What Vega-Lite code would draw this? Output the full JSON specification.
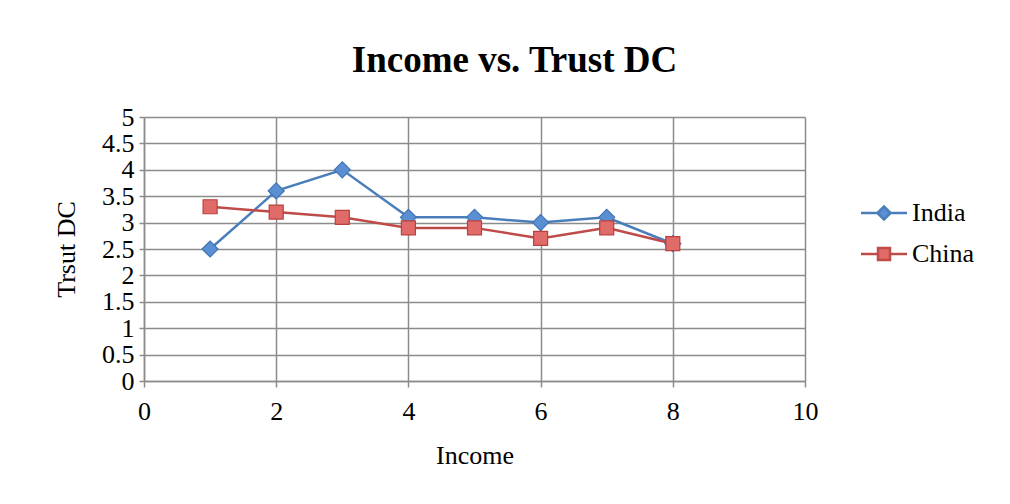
{
  "$schema": "https://vega.github.io/schema/vega-lite/v6.json",
  "width": 661,
  "height": 264,
  "autosize": {"type": "none"},
  "padding": {"left": 144, "top": 117, "right": 205, "bottom": 123},
  "background": "white",
  "title": {
    "text": "Income vs. Trust DC",
    "font": "Liberation Serif",
    "fontSize": 37,
    "fontWeight": "bold",
    "color": "black",
    "anchor": "middle",
    "dx": 40,
    "offset": 24
  },
  "config": {
    "font": "Liberation Serif",
    "view": {"stroke": null},
    "axis": {
      "labelFont": "Liberation Serif",
      "labelFontSize": 26,
      "labelColor": "black",
      "labelFlush": false,
      "titleFont": "Liberation Serif",
      "titleFontSize": 26,
      "titleFontWeight": "normal",
      "titleColor": "black",
      "gridColor": "#8c8c8c",
      "gridWidth": 1.5,
      "gridOpacity": 1,
      "domainColor": "#8c8c8c",
      "domainWidth": 1.5,
      "tickColor": "#8c8c8c",
      "tickWidth": 1.5
    }
  },
  "data": {
    "values": [
      {"income": 1, "series": "India", "trust": 2.5},
      {"income": 2, "series": "India", "trust": 3.6},
      {"income": 3, "series": "India", "trust": 4.0},
      {"income": 4, "series": "India", "trust": 3.1},
      {"income": 5, "series": "India", "trust": 3.1},
      {"income": 6, "series": "India", "trust": 3.0},
      {"income": 7, "series": "India", "trust": 3.1},
      {"income": 8, "series": "India", "trust": 2.6},
      {"income": 1, "series": "China", "trust": 3.3},
      {"income": 2, "series": "China", "trust": 3.2},
      {"income": 3, "series": "China", "trust": 3.1},
      {"income": 4, "series": "China", "trust": 2.9},
      {"income": 5, "series": "China", "trust": 2.9},
      {"income": 6, "series": "China", "trust": 2.7},
      {"income": 7, "series": "China", "trust": 2.9},
      {"income": 8, "series": "China", "trust": 2.6}
    ]
  },
  "encoding": {
    "x": {
      "field": "income",
      "type": "quantitative",
      "scale": {"domain": [0, 10], "nice": false},
      "axis": {
        "title": "Income",
        "values": [0, 2, 4, 6, 8, 10],
        "tickSize": 6,
        "labelPadding": 11,
        "titlePadding": 18
      }
    },
    "y": {
      "field": "trust",
      "type": "quantitative",
      "scale": {"domain": [0, 5], "nice": false},
      "axis": {
        "title": "Trsut DC",
        "values": [0, 0.5, 1, 1.5, 2, 2.5, 3, 3.5, 4, 4.5, 5],
        "format": "~g",
        "tickSize": 5,
        "labelPadding": 5,
        "titlePadding": 22
      }
    }
  },
  "layer": [
    {
      "mark": {"type": "line", "strokeWidth": 2.5},
      "encoding": {
        "color": {
          "field": "series",
          "type": "nominal",
          "scale": {"domain": ["India", "China"], "range": ["#4a7ebb", "#be4b48"]},
          "legend": {
            "title": null,
            "orient": "none",
            "legendX": 727,
            "legendY": 83,
            "padding": 0,
            "labelFont": "Liberation Serif",
            "labelFontSize": 26,
            "labelColor": "black",
            "labelOffset": 15,
            "rowPadding": 15,
            "symbolSize": 400,
            "symbolStrokeWidth": 2.5,
            "encode": {
              "symbols": {
                "update": {
                  "shape": {"signal": "datum.value === 'India' ? 'M-2.3,0L-0.65,0L0,-0.65L0.65,0L2.3,0L0.65,0L0,0.65L-0.65,0Z' : 'M-2.3,0L-0.6,0L-0.6,-0.6L0.6,-0.6L0.6,0L2.3,0L0.6,0L0.6,0.6L-0.6,0.6L-0.6,0Z'"},
                  "fill": {"signal": "datum.value === 'India' ? '#5b8fd3' : '#e06b68'"},
                  "stroke": {"signal": "datum.value === 'India' ? '#4a7ebb' : '#be4b48'"},
                  "strokeWidth": {"value": 2.5},
                  "strokeOpacity": {"value": 1},
                  "opacity": {"value": 1},
                  "fillOpacity": {"value": 1}
                }
              }
            }
          }
        }
      }
    },
    {
      "transform": [{"filter": "datum.series === 'India'"}],
      "mark": {"type": "point", "shape": "diamond", "size": 256, "filled": true, "opacity": 1, "fill": "#5b8fd3", "stroke": "#3f74b5", "strokeWidth": 1.2}
    },
    {
      "transform": [{"filter": "datum.series === 'China'"}],
      "mark": {"type": "point", "shape": "square", "size": 196, "filled": true, "opacity": 1, "fill": "#e06b68", "stroke": "#b9413e", "strokeWidth": 1.2}
    }
  ]
}
